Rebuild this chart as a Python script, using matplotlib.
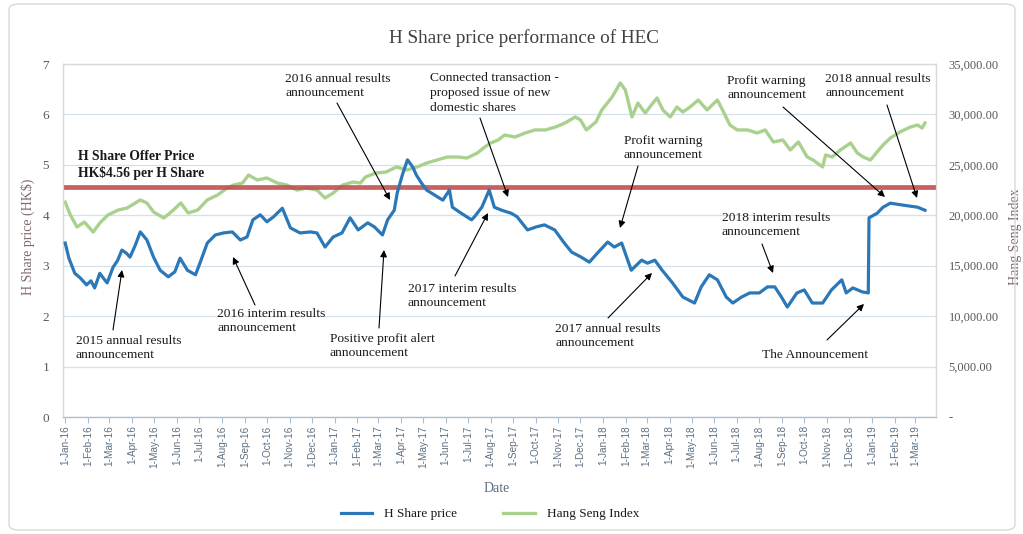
import matplotlib
matplotlib.use("Agg")
import matplotlib.pyplot as plt
import matplotlib.dates as mdates
from matplotlib.ticker import FuncFormatter, MultipleLocator
from matplotlib.patches import FancyBboxPatch
import pandas as pd

# ---------------- data ----------------
h_dates = ["2016-01-01","2016-01-06","2016-01-14","2016-01-22","2016-01-30","2016-02-05","2016-02-10",
           "2016-02-17","2016-02-22","2016-02-27","2016-03-06","2016-03-12","2016-03-18","2016-03-24",
           "2016-03-29","2016-04-05","2016-04-12","2016-04-21","2016-04-30","2016-05-09","2016-05-20",
           "2016-05-29","2016-06-05","2016-06-15","2016-06-26","2016-07-02","2016-07-12","2016-07-23",
           "2016-08-03","2016-08-15","2016-08-26","2016-09-04","2016-09-12","2016-09-22","2016-10-01",
           "2016-10-10","2016-10-22","2016-11-02","2016-11-15","2016-11-29","2016-12-08","2016-12-19",
           "2016-12-30","2017-01-11","2017-01-22","2017-02-02","2017-02-15","2017-02-24","2017-03-07",
           "2017-03-14","2017-03-23","2017-03-27","2017-04-03","2017-04-10","2017-04-17","2017-04-22",
           "2017-04-29","2017-05-06","2017-05-17","2017-05-28","2017-06-06","2017-06-10","2017-06-22",
           "2017-07-06","2017-07-10","2017-07-20","2017-07-30","2017-08-06","2017-08-16","2017-08-29",
           "2017-09-06","2017-09-20","2017-10-02","2017-10-13","2017-10-27","2017-11-09","2017-11-19",
           "2017-12-02","2017-12-13","2017-12-24","2018-01-07","2018-01-16","2018-01-26","2018-02-08",
           "2018-02-22","2018-03-02","2018-03-12","2018-03-22","2018-04-05","2018-04-19","2018-05-05",
           "2018-05-14","2018-05-25","2018-06-05","2018-06-17","2018-06-26","2018-07-08","2018-07-19",
           "2018-08-01","2018-08-12","2018-08-22","2018-08-31","2018-09-08","2018-09-21","2018-10-01",
           "2018-10-12","2018-10-26","2018-11-07","2018-11-21","2018-11-27","2018-12-06","2018-12-19",
           "2018-12-27","2018-12-28","2019-01-08","2019-01-16","2019-01-26","2019-02-13","2019-03-04",
           "2019-03-14"]
h_price = [3.45,3.15,2.85,2.75,2.62,2.70,2.56,
           2.85,2.75,2.66,2.97,3.10,3.31,3.25,
           3.17,3.40,3.67,3.51,3.17,2.91,2.78,
           2.88,3.15,2.91,2.82,3.05,3.45,3.61,
           3.65,3.67,3.51,3.57,3.91,4.01,3.87,
           3.97,4.14,3.75,3.65,3.67,3.65,3.37,
           3.57,3.65,3.95,3.71,3.85,3.77,3.61,
           3.91,4.10,4.44,4.80,5.10,4.96,4.80,
           4.64,4.50,4.40,4.30,4.50,4.16,4.04,
           3.91,3.97,4.16,4.50,4.16,4.10,4.04,
           3.97,3.71,3.77,3.81,3.71,3.45,3.27,
           3.17,3.07,3.25,3.47,3.37,3.45,2.91,
           3.11,3.05,3.11,2.91,2.66,2.38,2.26,
           2.58,2.82,2.72,2.38,2.26,2.38,2.46,
           2.46,2.58,2.58,2.38,2.18,2.46,2.52,
           2.26,2.26,2.52,2.72,2.46,2.56,2.48,
           2.46,3.95,4.04,4.16,4.24,4.20,4.16,
           4.10]

hsi_dates = ["2016-01-01","2016-01-08","2016-01-17","2016-01-27","2016-02-08","2016-02-17","2016-02-28",
             "2016-03-13","2016-03-25","2016-04-12","2016-04-21","2016-04-30","2016-05-14","2016-05-27",
             "2016-06-06","2016-06-16","2016-06-29","2016-07-12","2016-07-26","2016-08-08","2016-08-17",
             "2016-08-29","2016-09-06","2016-09-18","2016-10-01","2016-10-15","2016-10-28","2016-11-11",
             "2016-11-24","2016-12-08","2016-12-19","2016-12-30","2017-01-12","2017-01-26","2017-02-05",
             "2017-02-12","2017-02-26","2017-03-12","2017-03-26","2017-04-09","2017-04-23","2017-05-06",
             "2017-05-20","2017-06-03","2017-06-17","2017-06-30","2017-07-14","2017-07-24","2017-08-01",
             "2017-08-11","2017-08-20","2017-09-03","2017-09-17","2017-09-30","2017-10-14","2017-10-28",
             "2017-11-10","2017-11-24","2017-12-01","2017-12-09","2017-12-22","2017-12-30","2018-01-13",
             "2018-01-24","2018-01-31","2018-02-09","2018-02-17","2018-02-27","2018-03-08","2018-03-15",
             "2018-03-23","2018-04-02","2018-04-11","2018-04-19","2018-04-29","2018-05-10","2018-05-22",
             "2018-06-05","2018-06-12","2018-06-22","2018-07-02","2018-07-16","2018-07-29","2018-08-09",
             "2018-08-20","2018-09-02","2018-09-12","2018-09-23","2018-10-05","2018-10-13","2018-10-26",
             "2018-10-30","2018-11-08","2018-11-19","2018-12-03","2018-12-12","2018-12-20","2018-12-30",
             "2019-01-08","2019-01-16","2019-01-26","2019-02-08","2019-02-22","2019-03-04","2019-03-10",
             "2019-03-14"]
hsi_value = [21300,20030,18840,19330,18340,19230,20030,
             20520,20720,21520,21220,20330,19730,20520,
             21220,20230,20520,21520,22010,22710,23000,
             23200,23990,23500,23700,23200,23000,22500,
             22710,22500,21710,22210,23000,23300,23200,
             23800,24190,24290,24790,24490,24790,25180,
             25480,25780,25780,25680,26180,26770,27170,
             27460,27960,27760,28160,28460,28460,28750,
             29150,29750,29450,28460,29250,30440,31730,
             33120,32420,29750,31130,30140,31000,31630,
             30440,29750,30740,30240,30740,31430,30440,
             31430,30440,28950,28460,28460,28160,28460,
             27270,27460,26470,27270,25780,25480,24790,
             25980,25780,26470,27170,26180,25780,25480,
             26280,26970,27660,28260,28750,28950,28650,
             29150]

offer_price = 4.56
x_start, x_end = "2015-12-29", "2019-03-29"

title = "H Share price performance of HEC"
left_label = "H Share price (HK$)"
right_label = "Hang Seng Index"
x_label = "Date"
series_names = ["H Share price", "Hang Seng Index"]
offer_text = "H Share Offer Price\nHK$4.56 per H Share"

# annotation text, text anchor (left x, centre y) and arrow tail/head, in reference pixels
notes = [
    ("2015 annual results\nannouncement", (76, 348), (113, 330), (122, 270)),
    ("2016 interim results\nannouncement", (217, 321), (255, 305), (233, 257)),
    ("Positive profit alert\nannouncement", (330, 346), (379, 328), (384, 250)),
    ("2016 annual results\nannouncement", (285, 86), (337, 103), (390, 200)),
    ("Connected transaction -\nproposed issue of new\ndomestic shares", (430, 93), (480, 118), (508, 197)),
    ("2017 interim results\nannouncement", (408, 296), (455, 276), (488, 213)),
    ("Profit warning\nannouncement", (624, 148), (638, 166), (620, 228)),
    ("2017 annual results\nannouncement", (555, 336), (608, 318), (652, 273)),
    ("2018 interim results\nannouncement", (722, 225), (762, 244), (773, 273)),
    ("The Announcement", (762, 355), (827, 340), (864, 304)),
    ("Profit warning\nannouncement", (727, 88), (783, 107), (885, 197)),
    ("2018 annual results\nannouncement", (825, 86), (887, 105), (917, 198)),
]

# ---------------- style ----------------
W, H = 1023, 534
SERIF = ["Liberation Serif", "DejaVu Serif"]
SANS = ["Liberation Sans", "DejaVu Sans"]
BLUE = "#2b78b8"
GREEN = "#a9d18e"
RED = "#c0504d"
GRAY = "#595959"
AXC = "#7f6b6b"
AX_L, AX_R, AX_T, AX_B = 63, 936, 64, 417

def fp(x, y):
    return (x / W, 1 - y / H)

fig = plt.figure(figsize=(W / 100, H / 100), dpi=100)
fig.patch.set_facecolor("white")
ax = fig.add_axes([AX_L / W, 1 - AX_B / H, (AX_R - AX_L) / W, (AX_B - AX_T) / H])
ax2 = ax.twinx()
ax.set_zorder(ax2.get_zorder() + 1)
ax.patch.set_visible(False)

hd = pd.to_datetime(h_dates)
sd = pd.to_datetime(hsi_dates)

l2, = ax2.plot(sd, hsi_value, color=GREEN, lw=2.4, solid_joinstyle="round", label=series_names[1])
ax.axhline(offer_price, color=RED, lw=3.4, alpha=0.9, zorder=2)
l1, = ax.plot(hd, h_price, color=BLUE, lw=2.3, solid_joinstyle="round", label=series_names[0], zorder=3)

ax.set_xlim(pd.Timestamp(x_start), pd.Timestamp(x_end))
ax.set_ylim(0, 7)
ax2.set_ylim(0, 35000)
ax.yaxis.set_major_locator(MultipleLocator(1))
ax2.yaxis.set_major_locator(MultipleLocator(5000))
ax2.grid(False)
ax2.yaxis.grid(True, color="#d5e0ea", lw=0.9)
ax2.set_axisbelow(True)

ax.xaxis.set_major_locator(mdates.MonthLocator(bymonthday=1))
ax.xaxis.set_major_formatter(FuncFormatter(
    lambda v, p: (lambda d: f"{d.day}-{d.strftime('%b-%y')}")(mdates.num2date(v))))
ax.tick_params(axis="x", rotation=90, labelsize=7.2, colors="#5b6f82", length=4, width=0.8,
               direction="out", pad=2)
ax.tick_params(axis="x", which="major", color="#a9c0d8")
for lab in ax.get_xticklabels():
    lab.set_fontfamily(SANS)
ax.tick_params(axis="y", length=0, labelsize=9.5, labelcolor=GRAY, pad=10)
for lab in ax.get_yticklabels():
    lab.set_fontfamily(SERIF)
ax2.yaxis.set_major_formatter(FuncFormatter(lambda v, p: "-" if v == 0 else f"{v:,.2f}"))
ax2.tick_params(axis="y", length=0, labelsize=9, labelcolor=GRAY, pad=9)
for lab in ax2.get_yticklabels():
    lab.set_fontfamily(SERIF)

for a in (ax, ax2):
    for s in a.spines.values():
        s.set_color("#d9d9d9")
        s.set_linewidth(0.9)
ax.spines["bottom"].set_color("#a9c0d8")

ax.set_ylabel(left_label, fontfamily=SERIF, fontsize=10, color=AXC)
ax2.set_ylabel(right_label, fontfamily=SERIF, fontsize=10, color=AXC, rotation=90)
ax.yaxis.set_label_coords((35 - AX_L) / (AX_R - AX_L), (AX_B - 237) / (AX_B - AX_T))
ax2.yaxis.set_label_coords((1009 - AX_L) / (AX_R - AX_L), (AX_B - 237) / (AX_B - AX_T))
fig.text(*fp(497, 488), x_label, fontfamily=SERIF, fontsize=10, color="#5b6f82", ha="center", va="center")
fig.text(*fp(524, 38), title, fontfamily=SERIF, fontsize=13.8, color="#404040", ha="center", va="center")

fig.text(*fp(78, 165), offer_text, fontfamily=SERIF, fontsize=9.8, fontweight="bold",
         color="#1a1a1a", ha="left", va="center", linespacing=1.2, zorder=10)

for text, tpos, tail, head in notes:
    fig.text(*fp(*tpos), text, fontfamily=SERIF, fontsize=9.7, color="#1a1a1a",
             ha="left", va="center", linespacing=1.3, zorder=10)
    ax.annotate("", xy=fp(*head), xytext=fp(*tail), xycoords="figure fraction",
                textcoords="figure fraction",
                arrowprops=dict(arrowstyle="-|>", color="black", lw=0.8, mutation_scale=10,
                                shrinkA=0, shrinkB=0), zorder=10)

leg = fig.legend([l1, l2], series_names, loc="center", bbox_to_anchor=fp(490, 514), ncol=2,
                 frameon=False, handlelength=2.4, columnspacing=3.5, handletextpad=0.9,
                 prop={"family": SERIF, "size": 9.5})
for t in leg.get_texts():
    t.set_color("#1a1a1a")

border = FancyBboxPatch((9 / W, 4 / H), (1015 - 9) / W, (530 - 4) / H, transform=fig.transFigure,
                        boxstyle="round,pad=0,rounding_size=0.01", fill=False, ec="#d9d9d9", lw=1)
fig.patches.append(border)

fig.savefig("out.png", dpi=100)
